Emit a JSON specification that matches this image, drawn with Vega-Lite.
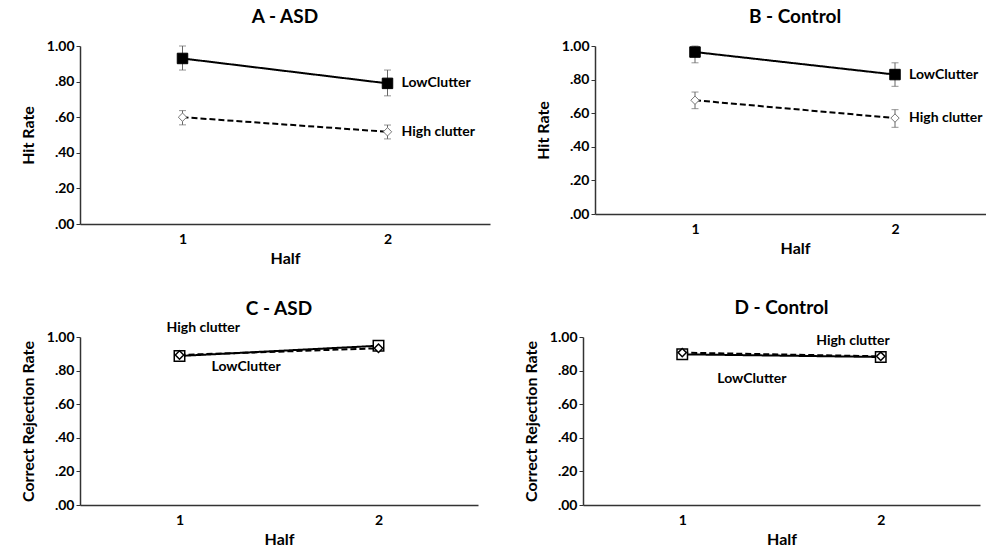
{
"$schema":"https://vega.github.io/schema/vega-lite/v6.json",
"padding":{"left":20,"top":8,"right":0,"bottom":0},
"spacing":33,
"config":{"font":"Lato","view":{"stroke":null},
 "axis":{"domainColor":"#333","domainWidth":1.5,"labelFont":"Lato","labelFontWeight":"bold","labelFontSize":14,"labelColor":"#000","titleFont":"Lato","titleFontSize":16,"titleFontWeight":"bold","titleColor":"#000","grid":false,"tickColor":"#333"},
 "title":{"font":"Lato","fontSize":19,"fontWeight":"bold","anchor":"middle","color":"#000","offset":12},
 "concat":{"spacing":45}},
"vconcat":[
{"hconcat":[
{"width":410,"height":178,"title":"A - ASD",
 "data":{"values":[
  {"half":"1","cond":"LowClutter","rate":0.93,"lo":0.865,"hi":1.0},
  {"half":"2","cond":"LowClutter","rate":0.79,"lo":0.72,"hi":0.865},
  {"half":"1","cond":"High clutter","rate":0.60,"lo":0.557,"hi":0.637},
  {"half":"2","cond":"High clutter","rate":0.518,"lo":0.478,"hi":0.556}]},
 "encoding":{
  "x":{"field":"half","type":"ordinal","scale":{"type":"point","padding":0.5},"axis":{"labelAngle":0,"ticks":false,"labelPadding":8,"title":"Half","titlePadding":4}},
  "y":{"field":"rate","type":"quantitative","scale":{"domain":[0,1]},"axis":{"values":[0,0.2,0.4,0.6,0.8,1],"labelExpr":"datum.value < 1 ? substring(format(datum.value, '.2f'), 1) : format(datum.value, '.2f')","tickSize":4,"title":"Hit Rate","titlePadding":10}}},
 "layer":[
  {"mark":{"type":"line","color":"black","strokeWidth":2},"encoding":{"detail":{"field":"cond"},"strokeDash":{"field":"cond","type":"nominal","scale":{"domain":["LowClutter","High clutter"],"range":[[1,0],[6,3]]},"legend":null}}},
  {"mark":{"type":"errorbar","ticks":{"size":7},"color":"#666","thickness":1},"encoding":{"y":{"field":"lo","type":"quantitative"},"y2":{"field":"hi"}}},
  {"mark":{"type":"point","filled":false,"opacity":1,"strokeWidth":1},"encoding":{
    "shape":{"field":"cond","type":"nominal","scale":{"domain":["LowClutter","High clutter"],"range":["square","diamond"]},"legend":null},
    "fill":{"field":"cond","type":"nominal","scale":{"domain":["LowClutter","High clutter"],"range":["black","white"]},"legend":null},
    "stroke":{"field":"cond","type":"nominal","scale":{"domain":["LowClutter","High clutter"],"range":["black","#777"]},"legend":null},
    "size":{"field":"cond","type":"nominal","scale":{"domain":["LowClutter","High clutter"],"range":[110,70]},"legend":null}}},
  {"transform":[{"filter":"datum.half == '2'"}],"mark":{"type":"text","align":"left","dx":14,"fontWeight":"bold","fontSize":14,"font":"Lato"},"encoding":{"text":{"field":"cond"}}}
 ]},
{"width":400,"height":168,"title":"B - Control",
 "data":{"values":[
  {"half":"1","cond":"LowClutter","rate":0.964,"lo":0.90,"hi":1.0},
  {"half":"2","cond":"LowClutter","rate":0.83,"lo":0.76,"hi":0.90},
  {"half":"1","cond":"High clutter","rate":0.677,"lo":0.627,"hi":0.726},
  {"half":"2","cond":"High clutter","rate":0.571,"lo":0.516,"hi":0.621}]},
 "encoding":{
  "x":{"field":"half","type":"ordinal","scale":{"type":"point","padding":0.5},"axis":{"labelAngle":0,"ticks":false,"labelPadding":8,"title":"Half","titlePadding":4}},
  "y":{"field":"rate","type":"quantitative","scale":{"domain":[0,1]},"axis":{"values":[0,0.2,0.4,0.6,0.8,1],"labelExpr":"datum.value < 1 ? substring(format(datum.value, '.2f'), 1) : format(datum.value, '.2f')","tickSize":4,"title":"Hit Rate","titlePadding":10}}},
 "layer":[
  {"mark":{"type":"line","color":"black","strokeWidth":2},"encoding":{"detail":{"field":"cond"},"strokeDash":{"field":"cond","type":"nominal","scale":{"domain":["LowClutter","High clutter"],"range":[[1,0],[6,3]]},"legend":null}}},
  {"mark":{"type":"errorbar","ticks":{"size":7},"color":"#666","thickness":1},"encoding":{"y":{"field":"lo","type":"quantitative"},"y2":{"field":"hi"}}},
  {"mark":{"type":"point","filled":false,"opacity":1,"strokeWidth":1},"encoding":{
    "shape":{"field":"cond","type":"nominal","scale":{"domain":["LowClutter","High clutter"],"range":["square","diamond"]},"legend":null},
    "fill":{"field":"cond","type":"nominal","scale":{"domain":["LowClutter","High clutter"],"range":["black","white"]},"legend":null},
    "stroke":{"field":"cond","type":"nominal","scale":{"domain":["LowClutter","High clutter"],"range":["black","#777"]},"legend":null},
    "size":{"field":"cond","type":"nominal","scale":{"domain":["LowClutter","High clutter"],"range":[110,70]},"legend":null}}},
  {"transform":[{"filter":"datum.half == '2'"}],"mark":{"type":"text","align":"left","dx":14,"fontWeight":"bold","fontSize":14,"font":"Lato"},"encoding":{"text":{"field":"cond"}}}
 ]}
]},
{"hconcat":[
{"width":398,"height":168,"title":{"text":"C - ASD","offset":2},
 "data":{"values":[
  {"half":"1","cond":"LowClutter","rate":0.887},
  {"half":"2","cond":"LowClutter","rate":0.948},
  {"half":"1","cond":"High clutter","rate":0.893},
  {"half":"2","cond":"High clutter","rate":0.933}]},
 "encoding":{
  "x":{"field":"half","type":"ordinal","scale":{"type":"point","padding":0.5},"axis":{"labelAngle":0,"ticks":false,"labelPadding":8,"title":"Half","titlePadding":4}},
  "y":{"field":"rate","type":"quantitative","scale":{"domain":[0,1]},"axis":{"values":[0,0.2,0.4,0.6,0.8,1],"labelExpr":"datum.value < 1 ? substring(format(datum.value, '.2f'), 1) : format(datum.value, '.2f')","tickSize":4,"title":"Correct Rejection Rate","titlePadding":10}}},
 "layer":[
  {"mark":{"type":"line","color":"black","strokeWidth":2},"encoding":{"detail":{"field":"cond"},"strokeDash":{"field":"cond","type":"nominal","scale":{"domain":["LowClutter","High clutter"],"range":[[1,0],[6,3]]},"legend":null}}},
  {"mark":{"type":"point","filled":false,"opacity":1,"strokeWidth":1.5,"stroke":"black","fill":"white"},"encoding":{
    "shape":{"field":"cond","type":"nominal","scale":{"domain":["LowClutter","High clutter"],"range":["square","circle"]},"legend":null},
    "size":{"field":"cond","type":"nominal","scale":{"domain":["LowClutter","High clutter"],"range":[90,60]},"legend":null}}},
  {"transform":[{"filter":"datum.half == '1' && datum.cond == 'High clutter'"}],"mark":{"type":"text","align":"left","dx":-13,"dy":-27,"fontWeight":"bold","fontSize":14,"font":"Lato"},"encoding":{"text":{"field":"cond"}}},
  {"transform":[{"filter":"datum.half == '1' && datum.cond == 'LowClutter'"}],"mark":{"type":"text","align":"left","dx":32,"dy":11,"fontWeight":"bold","fontSize":14,"font":"Lato"},"encoding":{"text":{"field":"cond"}}}
 ]},
{"width":397,"height":168,"title":{"text":"D - Control","offset":12},
 "data":{"values":[
  {"half":"1","cond":"LowClutter","rate":0.897},
  {"half":"2","cond":"LowClutter","rate":0.881},
  {"half":"1","cond":"High clutter","rate":0.907},
  {"half":"2","cond":"High clutter","rate":0.885}]},
 "encoding":{
  "x":{"field":"half","type":"ordinal","scale":{"type":"point","padding":0.5},"axis":{"labelAngle":0,"ticks":false,"labelPadding":8,"title":"Half","titlePadding":4}},
  "y":{"field":"rate","type":"quantitative","scale":{"domain":[0,1]},"axis":{"values":[0,0.2,0.4,0.6,0.8,1],"labelExpr":"datum.value < 1 ? substring(format(datum.value, '.2f'), 1) : format(datum.value, '.2f')","tickSize":4,"title":"Correct Rejection Rate","titlePadding":10}}},
 "layer":[
  {"mark":{"type":"line","color":"black","strokeWidth":2},"encoding":{"detail":{"field":"cond"},"strokeDash":{"field":"cond","type":"nominal","scale":{"domain":["LowClutter","High clutter"],"range":[[1,0],[6,3]]},"legend":null}}},
  {"mark":{"type":"point","filled":false,"opacity":1,"strokeWidth":1.5,"stroke":"black","fill":"white"},"encoding":{
    "shape":{"field":"cond","type":"nominal","scale":{"domain":["LowClutter","High clutter"],"range":["square","circle"]},"legend":null},
    "size":{"field":"cond","type":"nominal","scale":{"domain":["LowClutter","High clutter"],"range":[90,60]},"legend":null}}},
  {"transform":[{"filter":"datum.half == '2' && datum.cond == 'High clutter'"}],"mark":{"type":"text","align":"right","dx":9,"dy":-15,"fontWeight":"bold","fontSize":14,"font":"Lato"},"encoding":{"text":{"field":"cond"}}},
  {"transform":[{"filter":"datum.half == '1' && datum.cond == 'LowClutter'"}],"mark":{"type":"text","align":"left","dx":35,"dy":25,"fontWeight":"bold","fontSize":14,"font":"Lato"},"encoding":{"text":{"field":"cond"}}}
 ]}
]}
]
}
